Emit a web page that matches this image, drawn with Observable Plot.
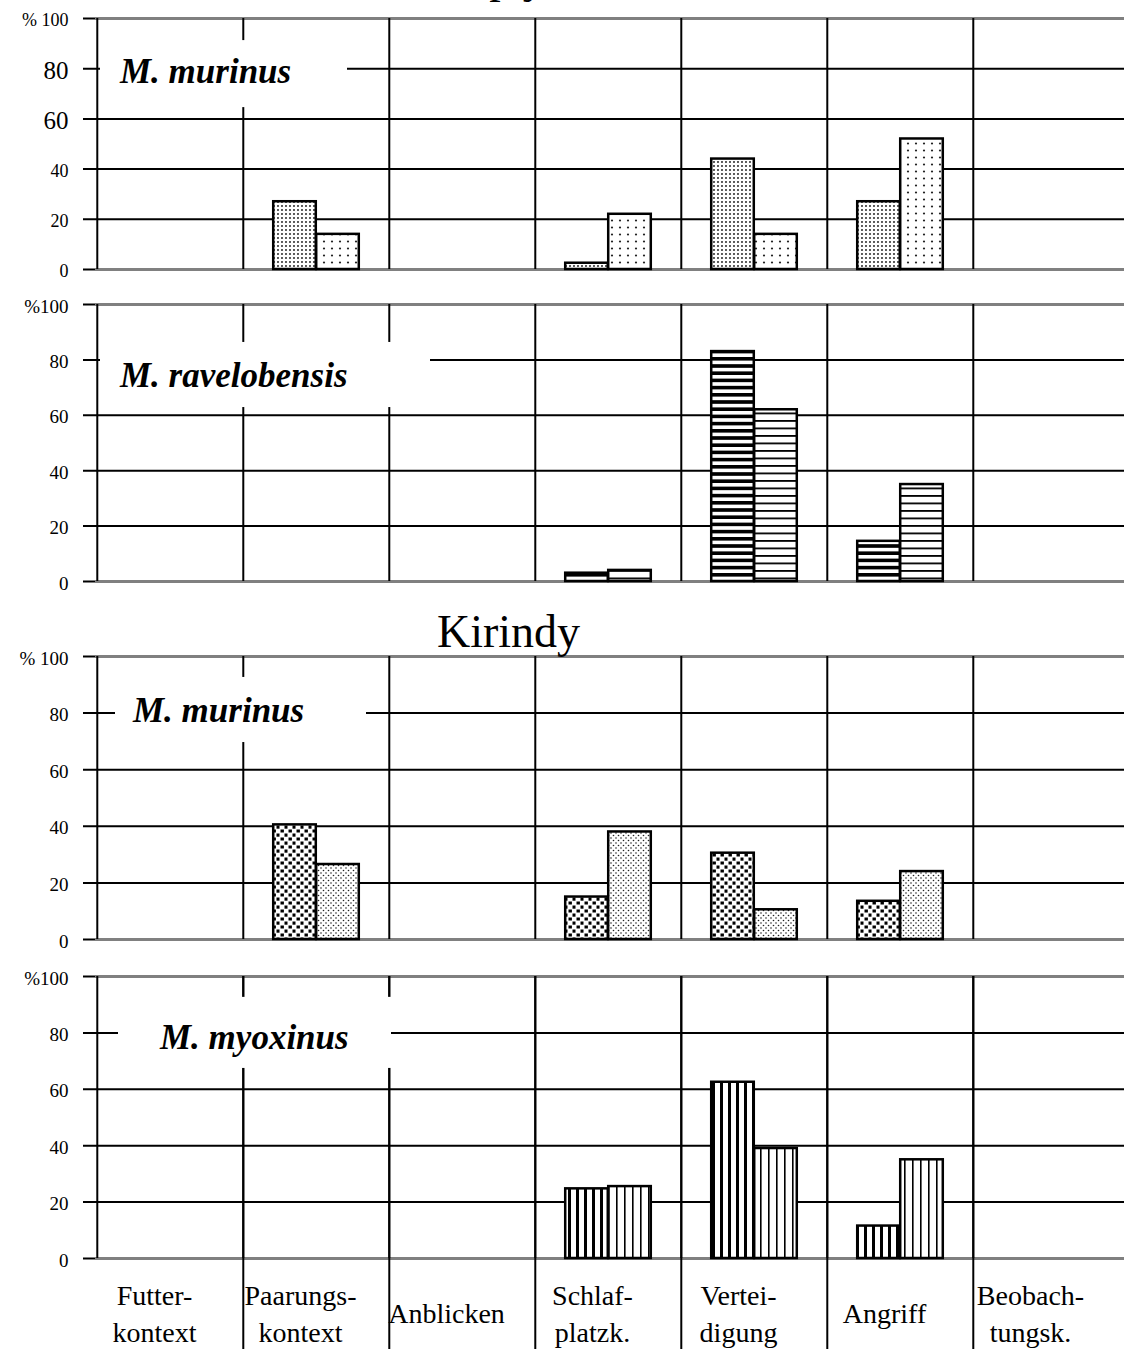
<!DOCTYPE html>
<html><head><meta charset="utf-8">
<script src="https://cdn.jsdelivr.net/npm/d3@7"></script>
<script src="https://cdn.jsdelivr.net/npm/@observablehq/plot@0.6"></script>
<style>
html,body{margin:0;padding:0;background:#fff;}
body{width:1124px;height:1349px;overflow:hidden;font-family:'Liberation Serif','Times New Roman',serif;color:#000;}
#wrap{position:relative;width:1124px;}
.site{font-size:46px;line-height:44px;height:44px;text-align:center;color:#000;}
#site1{position:absolute;top:-45px;left:0;width:1040px;}
#site2{position:relative;top:17px;width:1017px;}
svg{display:block;}
</style></head><body>
<svg width="0" height="0" style="position:absolute;left:0;top:0"><defs>
<pattern id="pDense" width="4" height="4" patternUnits="userSpaceOnUse"><rect width="4" height="4" fill="#fff"/><circle cx="2" cy="2" r="1.05" fill="#333"/></pattern>
<pattern id="pSparse" width="8" height="7" patternUnits="userSpaceOnUse"><rect width="8" height="7" fill="#fff"/><circle cx="4" cy="3.5" r="1.1" fill="#222"/></pattern>
<pattern id="pHBold" width="8" height="7.2" patternUnits="userSpaceOnUse"><rect width="8" height="7.2" fill="#fff"/><rect width="8" height="3.6" fill="#000"/></pattern>
<pattern id="pHThin" width="8" height="7.5" patternUnits="userSpaceOnUse"><rect width="8" height="7.5" fill="#fff"/><rect width="8" height="1.8" fill="#000"/></pattern>
<pattern id="pSquares" width="8" height="8" patternUnits="userSpaceOnUse"><rect width="8" height="8" fill="#fff"/><rect x="0.5" y="0.5" width="3.4" height="3" fill="#000"/><rect x="4.5" y="4.5" width="3" height="3.2" fill="#000"/></pattern>
<pattern id="pFine" width="5" height="5" patternUnits="userSpaceOnUse"><rect width="5" height="5" fill="#fff"/><circle cx="1" cy="1" r="0.8" fill="#222"/><circle cx="3.5" cy="3.5" r="0.8" fill="#222"/></pattern>
<pattern id="pVBold" width="8" height="8" patternUnits="userSpaceOnUse"><rect width="8" height="8" fill="#fff"/><rect width="3" height="8" fill="#000"/></pattern>
<pattern id="pVThin" width="8" height="8" patternUnits="userSpaceOnUse"><rect width="8" height="8" fill="#fff"/><rect width="1.6" height="8" fill="#000"/></pattern>
</defs></svg>
<div id="wrap"></div>
<script>
// ---- data ----
const categories = ["Futterkontext","Paarungskontext","Anblicken","Schlafplatzk.","Verteidigung","Angriff","Beobachtungsk."];
const categoryLabels = ["Futter-\nkontext","Paarungs-\nkontext","Anblicken","Schlaf-\nplatzk.","Vertei-\ndigung","Angriff","Beobach-\ntungsk."];
const sites = ["Ampijoroa","Kirindy"];
const speciesNames = ["M. murinus","M. ravelobensis","M. murinus","M. myoxinus"];
const ampMurinusA = [0,27,0,2.5,44,27,0];
const ampMurinusB = [0,14,0,22,14,52,0];
const ampRavelobensisA = [0,0,0,3,83,14.5,0];
const ampRavelobensisB = [0,0,0,4,62,35,0];
const kirMurinusA = [0,40.5,0,15,30.5,13.5,0];
const kirMurinusB = [0,26.5,0,38,10.5,24,0];
const kirMyoxinusA = [0,0,0,24.7,62.5,11.5,0];
const kirMyoxinusB = [0,0,0,25.5,39,35,0];
const yTicks = [0,20,40,60,80,100];

const FONT = "'Liberation Serif','Times New Roman',serif";
const wrap = document.getElementById("wrap");

function panel(cfg) {
  const width = 1124, marginLeft = 95, marginRight = 4;
  const bw = (width - marginLeft - marginRight) / categories.length;
  const barW = 43;
  const height = cfg.marginTop + cfg.innerH + cfg.marginBottom;
  const rows = categories.map((c, i) => ({cat: c, a: cfg.valsA[i], b: cfg.valsB[i]}));
  const fmt = d => d === 100 ? cfg.tick100 : String(d);
  const marks = [
    Plot.ruleY(yTicks, {y: d => d, stroke: "black", strokeWidth: 2, insetLeft: -12, insetRight: -4}),
    Plot.ruleY([0, 100], {y: d => d, stroke: "#808080", strokeWidth: 2.5, insetRight: -4}),
    Plot.ruleX(categories, {x: d => d, dx: -bw / 2, stroke: "black", strokeWidth: 2})
  ];
  if (cfg.bottomLabels) {
    marks.push(Plot.ruleX(categories.slice(1), {x: d => d, dx: -bw / 2, stroke: "black", strokeWidth: 2, insetBottom: -cfg.marginBottom}));
    marks.push(Plot.text(categories, {x: d => d, text: (d, i) => categoryLabels[i], frameAnchor: "bottom", lineAnchor: "middle", lineHeight: 1.32, dy: 53, dx: -16, fontSize: 28, fill: "black"}));
  }
  for (const g of cfg.tickGroups) {
    marks.push(Plot.text(g.ticks, {y: d => d, text: fmt, frameAnchor: "left", textAnchor: "end", dx: -27, dy: 2, fontSize: g.size, fill: "black"}));
  }
  marks.push(
    Plot.barY(rows.filter(d => d.a > 0), {x: "cat", y: "a", fill: `url(#${cfg.patA})`, stroke: "black", strokeWidth: 2.5, insetLeft: bw / 2 - barW, insetRight: bw / 2}),
    Plot.barY(rows.filter(d => d.b > 0), {x: "cat", y: "b", fill: `url(#${cfg.patB})`, stroke: "black", strokeWidth: 2.5, insetLeft: bw / 2, insetRight: bw / 2 - barW})
  );
  const plot = Plot.plot({
    width, height, marginLeft, marginRight, marginTop: cfg.marginTop, marginBottom: cfg.marginBottom,
    style: {fontFamily: FONT, background: "transparent", color: "black", overflow: "visible"},
    x: {type: "band", domain: categories, padding: 0, axis: null},
    y: {domain: [0, 100], axis: null},
    marks
  });
  // species label box (covers the grid like in the original)
  const y = plot.scale("y");
  const svg = d3.select(plot);
  svg.append("rect")
    .attr("x", cfg.box[0]).attr("width", cfg.box[1] - cfg.box[0])
    .attr("y", y.apply(cfg.box[2])).attr("height", y.apply(cfg.box[3]) - y.apply(cfg.box[2]))
    .attr("fill", "white");
  svg.append("text")
    .attr("x", cfg.labelX).attr("y", y.apply(cfg.labelBaseline))
    .attr("text-anchor", "start")
    .attr("font-family", FONT).attr("font-size", 35).attr("font-weight", "bold").attr("font-style", "italic")
    .attr("fill", "black")
    .text(cfg.label);
  return plot;
}

const t1 = document.createElement("div"); t1.className = "site"; t1.id = "site1"; t1.textContent = sites[0];
wrap.appendChild(t1);

wrap.appendChild(panel({
  valsA: ampMurinusA, valsB: ampMurinusB, patA: "pDense", patB: "pSparse",
  marginTop: 18, innerH: 251, marginBottom: 16, tick100: "% 100",
  tickGroups: [{ticks: [100, 40, 20, 0], size: 18}, {ticks: [80, 60], size: 25}],
  label: speciesNames[0], box: [100, 347, 91.2, 64.5], labelX: 120, labelBaseline: 74
}));
wrap.appendChild(panel({
  valsA: ampRavelobensisA, valsB: ampRavelobensisB, patA: "pHBold", patB: "pHThin",
  marginTop: 19, innerH: 277, marginBottom: 12, tick100: "%100",
  tickGroups: [{ticks: yTicks, size: 19}],
  label: speciesNames[1], box: [100, 430, 86.3, 62.8], labelX: 120, labelBaseline: 70
}));
const t2 = document.createElement("div"); t2.className = "site"; t2.id = "site2"; t2.textContent = sites[1];
wrap.appendChild(t2);
wrap.appendChild(panel({
  valsA: kirMurinusA, valsB: kirMurinusB, patA: "pSquares", patB: "pFine",
  marginTop: 19, innerH: 283, marginBottom: 18, tick100: "% 100",
  tickGroups: [{ticks: yTicks, size: 19}],
  label: speciesNames[2], box: [115, 366, 92.6, 69.6], labelX: 133, labelBaseline: 76.7
}));
wrap.appendChild(panel({
  valsA: kirMyoxinusA, valsB: kirMyoxinusB, patA: "pVBold", patB: "pVThin",
  marginTop: 19, innerH: 282, marginBottom: 91, tick100: "%100",
  tickGroups: [{ticks: yTicks, size: 19}],
  label: speciesNames[3], box: [118, 391, 92.6, 67.4], labelX: 160, labelBaseline: 74,
  bottomLabels: true
}));
</script>
</body></html>
